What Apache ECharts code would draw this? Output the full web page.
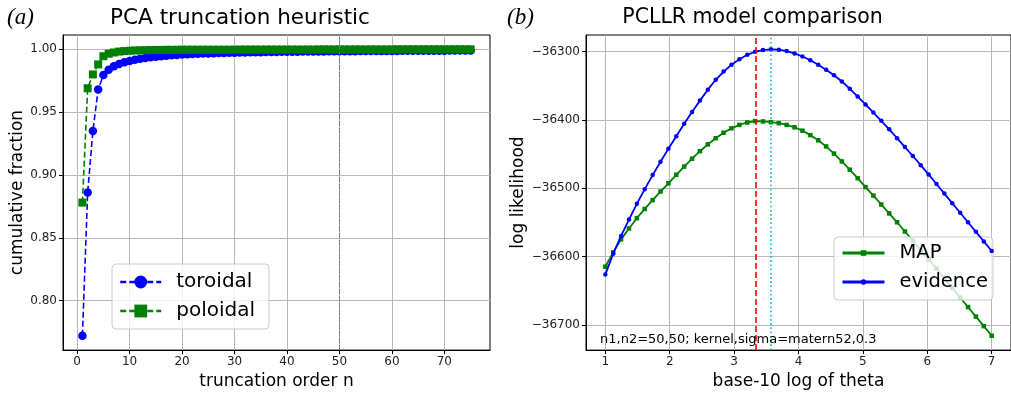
<!DOCTYPE html>
<html>
<head>
<meta charset="utf-8">
<script src="https://cdn.jsdelivr.net/npm/echarts@6.0.0/dist/echarts.min.js"></script>
<style>
html,body{margin:0;padding:0;background:#fff;}
#chart{width:1011px;height:395px;}
</style>
</head>
<body>
<div id="chart"></div>
<script>
// ---------- Panel (a): PCA truncation heuristic ----------
const truncOrder = [1,2,3,4,5,6,7,8,9,10,11,12,13,14,15,16,17,18,19,20,21,22,23,24,25,26,27,28,29,30,31,32,33,34,35,36,37,38,39,40,41,42,43,44,45,46,47,48,49,50,51,52,53,54,55,56,57,58,59,60,61,62,63,64,65,66,67,68,69,70,71,72,73,74,75];
const toroidal = [0.772,0.886,0.935,0.968,0.9795,0.9838,0.9865,0.9883,0.9897,0.9908,
  0.9917,0.9925,0.9931,0.9936,0.9941,0.9945,0.9949,0.9952,0.9955,0.9958,
  0.9960,0.9962,0.9964,0.9966,0.9967,0.9969,0.9970,0.9971,0.9972,0.9973,
  0.9974,0.9975,0.9976,0.9977,0.9977,0.9978,0.9979,0.9979,0.9980,0.9980,
  0.9981,0.9981,0.9982,0.9982,0.9983,0.9983,0.9983,0.9984,0.9984,0.9984,
  0.9985,0.9985,0.9985,0.9986,0.9986,0.9986,0.9986,0.9987,0.9987,0.9987,
  0.9987,0.9988,0.9988,0.9988,0.9988,0.9989,0.9989,0.9989,0.9989,0.9989,
  0.9990,0.9990,0.9990,0.9990,0.9990];
const poloidal = [0.878,0.969,0.980,0.988,0.9945,0.9965,0.9975,0.9982,0.9986,0.9989,
  0.9991,0.9992,0.9993,0.9994,0.9995,0.9995,0.9996,0.9996,0.9996,0.9997,
  0.9997,0.9997,0.9997,0.9997,0.9997,0.9997,0.9997,0.9997,0.9997,0.9997,
  0.9998,0.9998,0.9998,0.9998,0.9998,0.9998,0.9998,0.9998,0.9998,0.9998,0.9998,0.9998,0.9998,0.9998,0.9998,
  0.9999,0.9999,0.9999,0.9999,0.9999,0.9999,0.9999,0.9999,0.9999,0.9999,0.9999,0.9999,0.9999,0.9999,0.9999,
  1.0000,1.0000,1.0000,1.0000,1.0000,1.0000,1.0000,1.0000,1.0000,1.0000,1.0000,1.0000,1.0000,1.0000,1.0000];
const truncCutoff = 50;
const xTicksA = [0,10,20,30,40,50,60,70];
const yTicksA = [0.80,0.85,0.90,0.95,1.00];

// ---------- Panel (b): PCLLR model comparison ----------
const logTheta = [1.0000,1.1224,1.2449,1.3673,1.4898,1.6122,1.7347,1.8571,1.9796,2.1020,
  2.2245,2.3469,2.4694,2.5918,2.7143,2.8367,2.9592,3.0816,3.2041,3.3265,
  3.4490,3.5714,3.6939,3.8163,3.9388,4.0612,4.1837,4.3061,4.4286,4.5510,
  4.6735,4.7959,4.9184,5.0408,5.1633,5.2857,5.4082,5.5306,5.6531,5.7755,
  5.8980,6.0204,6.1429,6.2653,6.3878,6.5102,6.6327,6.7551,6.8776,7.0000];
const mapLL = [-36615,-36594,-36575,-36559,-36544,-36530.5,-36517.5,-36505,-36493,-36480.5,
  -36468.5,-36457,-36446,-36436,-36427,-36419,-36412.5,-36407.5,-36404,-36402,
  -36402.5,-36403.5,-36405,-36407.5,-36411,-36416,-36422.5,-36430,-36439,-36449.5,
  -36461,-36473,-36485.5,-36498.5,-36511,-36524,-36537,-36550,-36563.5,-36577,
  -36591,-36604.5,-36618,-36632,-36646,-36660,-36674,-36688,-36702,-36716];
const evidenceLL = [-36626.5,-36596,-36570,-36546,-36523,-36501.5,-36481,-36461.5,-36442.5,-36424,
  -36406,-36388.5,-36372,-36356,-36341.5,-36329.5,-36319.5,-36311.5,-36305,-36300.5,
  -36298,-36297,-36297.5,-36299.5,-36303,-36307.5,-36313,-36319.5,-36327,-36335,
  -36344,-36354.5,-36366,-36377.5,-36389.5,-36401.5,-36414,-36427,-36440,-36453,
  -36466.5,-36480,-36494,-36508,-36522,-36536,-36550,-36564,-36578,-36592];
const mapBestTheta = 3.3265;
const evidenceBestTheta = 3.5714;
const xTicksB = [1,2,3,4,5,6,7];
const yTicksB = [-36700,-36600,-36500,-36400,-36300];
const annotation = 'n1,n2=50,50; kernel,sigma=matern52,0.3';
</script>
<script>
const FONT = '"DejaVu Sans", "Noto Sans", sans-serif';
const gridCol = '#b8b8b8';
const chart = echarts.init(document.getElementById('chart'), null, {renderer:'canvas'});

function pairs(xs, ys){ return xs.map((x,i)=>[x, ys[i]]); }

function xAxisCfg(grid, min, max, ticks, name, fmt){
  return {gridIndex:grid, type:'value', min:min, max:max,
    axisLine:{show:true, onZero:false, lineStyle:{color:'#000', width:1}},
    axisTick:{show:true, customValues:ticks, length:4, lineStyle:{color:'#000', width:1}},
    axisLabel:{customValues:ticks, fontSize:12, color:'#222', fontFamily:FONT, margin:6, formatter:fmt},
    splitLine:{show:true, lineStyle:{color:gridCol, width:1}},
    name:name, nameLocation:'middle', nameGap:19,
    nameTextStyle:{fontSize:17, color:'#000', fontFamily:FONT}};
}
function yAxisCfg(grid, min, max, ticks, name, gap, fmt){
  return {gridIndex:grid, type:'value', min:min, max:max,
    axisLine:{show:true, onZero:false, lineStyle:{color:'#000', width:1}},
    axisTick:{show:true, customValues:ticks, length:4, lineStyle:{color:'#000', width:1}},
    axisLabel:{customValues:ticks, fontSize:12, color:'#222', fontFamily:FONT, margin:6, formatter:fmt},
    splitLine:{show:true, lineStyle:{color:gridCol, width:1}},
    name:name, nameLocation:'middle', nameGap:gap,
    nameTextStyle:{fontSize:17, color:'#000', fontFamily:FONT}};
}

const option = {
  animation:false,
  backgroundColor:'#fff',
  grid:[
    {left:63, right:521, top:35, bottom:41, show:true, borderColor:'#000', borderWidth:1, backgroundColor:'transparent'},
    {left:586, right:-2, top:35, bottom:41, show:true, borderColor:'#000', borderWidth:1, backgroundColor:'transparent'}
  ],
  xAxis:[
    xAxisCfg(0, -2.7, 78.7, xTicksA, 'truncation order n', v=>String(v)),
    xAxisCfg(1, 0.7, 7.3, xTicksB, 'base-10 log of theta', v=>String(v))
  ],
  yAxis:[
    yAxisCfg(0, 0.7606, 1.0114, yTicksA, 'cumulative fraction', 37, v=>v.toFixed(2)),
    yAxisCfg(1, -36737, -36276, yTicksB, 'log likelihood', 59, v=>(v<0?'\u2212':'')+Math.abs(v))
  ],
  legend:[
    {data:['toroidal','poloidal'], orient:'vertical', left:112, top:264,
     itemWidth:41, itemHeight:16, itemGap:9,
     textStyle:{fontSize:20, color:'#000', fontFamily:FONT, padding:[0,0,0,10]},
     backgroundColor:'rgba(255,255,255,0.8)', borderColor:'#cccccc', borderWidth:1, borderRadius:4,
     padding:[8,14,8,7], lineStyle:{width:2.5}},
    {data:['MAP','evidence'], orient:'vertical', left:834, top:237,
     itemWidth:42, itemHeight:7, itemGap:9,
     textStyle:{fontSize:19.5, color:'#000', fontFamily:FONT, padding:[0,0,0,10]},
     backgroundColor:'rgba(255,255,255,0.8)', borderColor:'#cccccc', borderWidth:1, borderRadius:4,
     padding:[6,5,8,7], lineStyle:{width:3}}
  ],
  series:[
    {name:'toroidal', type:'line', xAxisIndex:0, yAxisIndex:0, data:pairs(truncOrder, toroidal),
     symbol:'circle', symbolSize:8.5, showAllSymbol:true, z:3,
     lineStyle:{color:'#0000ff', width:1.6, type:[6,3]}, itemStyle:{color:'#0000ff'},
     markLine:{silent:true, symbol:['none','none'], label:{show:false}, animation:false,
       lineStyle:{color:'#3050b0', width:0.8, type:[1.5,2]}, data:[{xAxis:truncCutoff}]}},
    {name:'poloidal', type:'line', xAxisIndex:0, yAxisIndex:0, data:pairs(truncOrder, poloidal),
     symbol:'rect', symbolSize:8, showAllSymbol:true, z:4,
     lineStyle:{color:'#008000', width:1.6, type:[6,3]}, itemStyle:{color:'#008000'},
     markLine:{silent:true, symbol:['none','none'], label:{show:false}, animation:false,
       lineStyle:{color:'#4a9a6a', width:0.8, type:[4,3]}, data:[{xAxis:truncCutoff}]}},
    {name:'MAP', type:'line', xAxisIndex:1, yAxisIndex:1, data:pairs(logTheta, mapLL),
     symbol:'rect', symbolSize:4.5, showAllSymbol:true, z:3,
     lineStyle:{color:'#008000', width:1.8}, itemStyle:{color:'#008000'}},
    {name:'evidence', type:'line', xAxisIndex:1, yAxisIndex:1, data:pairs(logTheta, evidenceLL),
     symbol:'circle', symbolSize:4.5, showAllSymbol:true, z:4,
     lineStyle:{color:'#0000ff', width:1.8}, itemStyle:{color:'#0000ff'},
     markLine:{silent:true, symbol:['none','none'], label:{show:false}, animation:false,
       data:[
         {xAxis:mapBestTheta, lineStyle:{color:'#ff0000', width:1.6, type:[6,3]}},
         {xAxis:evidenceBestTheta, lineStyle:{color:'#00bfbf', width:1.6, type:[1.6,2.6]}}
       ]}}
  ],
  graphic:[
    {type:'text', x:240, y:18, style:{text:'PCA truncation heuristic', font:'21.5px "DejaVu Sans"', fill:'#000', align:'center', verticalAlign:'middle', textAlign:'center', textVerticalAlign:'middle'}},
    {type:'text', x:752.5, y:18, style:{text:'PCLLR model comparison', font:'20.5px "DejaVu Sans"', fill:'#000', align:'center', verticalAlign:'middle', textAlign:'center', textVerticalAlign:'middle'}},
    {type:'text', x:7, y:18, style:{text:'(a)', font:'italic 23px "Liberation Serif"', fill:'#000', align:'left', verticalAlign:'middle', textAlign:'left', textVerticalAlign:'middle'}},
    {type:'text', x:507, y:18, style:{text:'(b)', font:'italic 23px "Liberation Serif"', fill:'#000', align:'left', verticalAlign:'middle', textAlign:'left', textVerticalAlign:'middle'}},
    {type:'text', x:600, y:340, z:10, style:{text:annotation, font:'13px "DejaVu Sans"', fill:'#000', align:'left', verticalAlign:'middle', textAlign:'left', textVerticalAlign:'middle'}}
  ]
};
chart.setOption(option);
</script>
</body>
</html>
